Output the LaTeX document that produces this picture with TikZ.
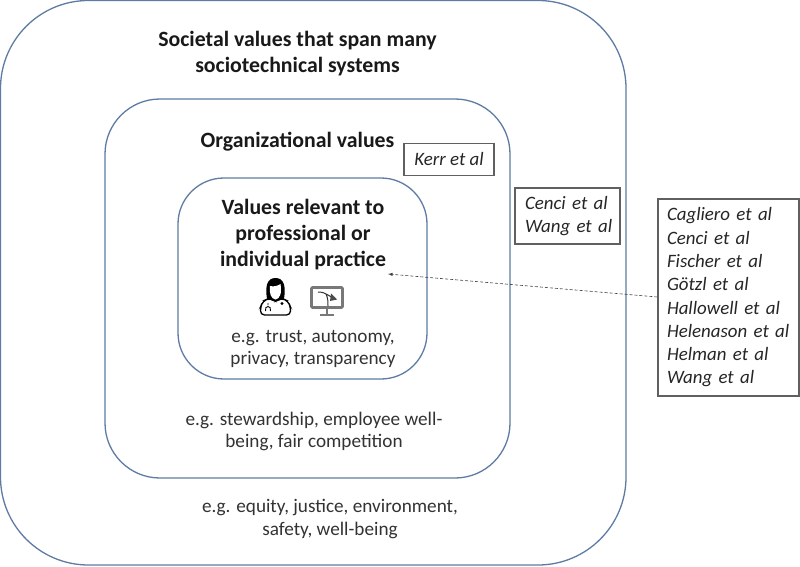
\documentclass[tikz,border=0pt]{standalone}
\usepackage{fontspec}
\setmainfont{Carlito}
\begin{document}
\begin{tikzpicture}[x=1pt,y=-1pt,
  ring/.style={draw=ringblue,line width=1.3pt},
  reflist/.style={draw=boxgray,line width=1.2pt,inner ysep=0pt,align=left,font=\fontsize{18.9}{23.3}\selectfont\itshape,text=black!85},
  headtext/.style={font=\fontsize{21.8}{26}\selectfont\bfseries,align=center,text=black!90},
  bodytext/.style={font=\fontsize{19.2}{22.8}\selectfont,align=center,text=black!80}]
\definecolor{ringblue}{HTML}{5E7CA3}
\definecolor{boxgray}{HTML}{606060}
\useasboundingbox (0,0) rectangle (800,567);
\fill[white] (0,0) rectangle (800,567);
\draw[ring,rounded corners=88pt] (0.5,0.5) rectangle (626,565);
\draw[ring,rounded corners=55pt] (105,99) rectangle (510,478);
\draw[ring,rounded corners=46pt] (178,178) rectangle (427,379);
\node[headtext] (societal) at (297.5,53.5) {Societal values that span many\\sociotechnical systems};
\node[headtext] (org) at (297.5,142) {Organizational values};
\node[headtext] (indiv) at (303,234.5) {Values relevant to\\professional or\\individual practice};
\node[bodytext] (ex1) at (313,349) {e.g. trust, autonomy,\\privacy, transparency};
\node[bodytext] (ex2) at (314,431.5) {e.g. stewardship, employee well-\\being, fair competition};
\node[bodytext] (ex3) at (330,519) {e.g. equity, justice, environment,\\safety, well-being};
\node[reflist,minimum width=90pt,minimum height=32pt,inner xsep=2pt,align=center] (kerr) at (449,159.5) {Kerr et al};
\node[reflist,minimum height=56pt,text width=85pt,inner xsep=10pt] (cenci) at (567.5,216) {\mbox{Cenci et al}\\\mbox{Wang et al}};
\node[reflist,minimum height=197pt,text width=123pt,inner xsep=9pt] (list) at (728.5,297.5) {\mbox{Cagliero et al}\\\mbox{Cenci et al}\\\mbox{Fischer et al}\\\mbox{Götzl et al}\\\mbox{Hallowell et al}\\\mbox{Helenason et al}\\\mbox{Helman et al}\\\mbox{Wang et al}};
\coordinate (arrowend) at (388,274);
\draw[-latex,densely dashed,line width=0.6pt,black!75] (list.west |- 0,297) -- (arrowend);
% clinician icon
\draw[black,line width=1.3pt,fill=white,rounded corners=4pt] (270,298) -- (263,301) -- (260.5,307) -- (260.5,315) -- (290.5,315) -- (290.5,307) -- (288,301) -- (281,298) -- (275.5,302) -- cycle;
\fill[black] (267,299) .. controls (265,286) and (267,278) .. (275.5,278) .. controls (284,278) and (286,286) .. (284,299) -- (279,300) -- (272,300) -- cycle;
\fill[white] (270,286) .. controls (274,287) and (277,286) .. (280.5,284) .. controls (282,293) and (280,299) .. (275.5,299.5) .. controls (271,299) and (269,293) .. (270,286) -- cycle;
\draw[black,line width=0.9pt] (268,303) -- (268,305) (265.5,311) .. controls (264,305) and (272,305) .. (270.5,311);
\fill[black] (282,303.5) circle (1.6pt);
% monitor icon
\draw[boxgray!85,line width=2.8pt,rounded corners=1pt] (311.5,287.5) rectangle (342.5,307.5);
\draw[boxgray!85,line width=1.3pt] (327,308) -- (327,314.5) (320,315) -- (334,315);
\draw[black!80,line width=1pt] (318,292) .. controls (322,292) and (325,293) .. (328,295) -- (333,298) (326,294) .. controls (328,298) and (328,302) .. (328,306);
\fill[black!70] (331,293.5) -- (337,299.5) -- (330,301) -- cycle;
\end{tikzpicture}
\end{document}
